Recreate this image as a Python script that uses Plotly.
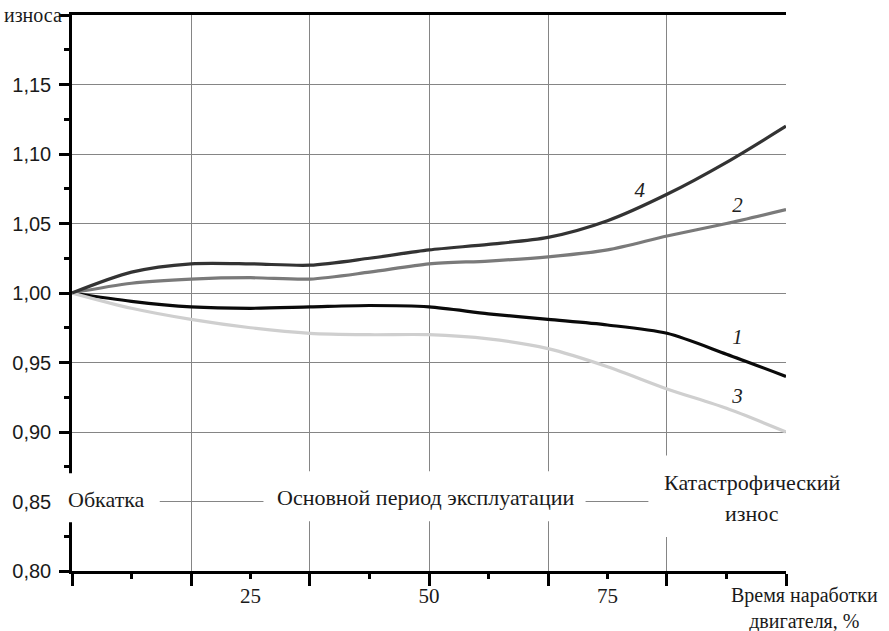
import plotly.graph_objects as go

# ---- data ----
time_pct = [0, 8.33, 16.67, 25, 33.33, 41.67, 50, 58.33, 66.67, 75, 83.33, 91.67, 100]
curve_1 = [1.000, 0.994, 0.990, 0.989, 0.990, 0.991, 0.990, 0.985, 0.981, 0.977, 0.971, 0.956, 0.940]
curve_2 = [1.000, 1.007, 1.010, 1.011, 1.010, 1.015, 1.021, 1.023, 1.026, 1.031, 1.041, 1.050, 1.060]
curve_3 = [1.000, 0.989, 0.981, 0.975, 0.971, 0.970, 0.970, 0.967, 0.960, 0.947, 0.931, 0.917, 0.900]
curve_4 = [1.000, 1.015, 1.021, 1.021, 1.020, 1.025, 1.031, 1.035, 1.040, 1.052, 1.071, 1.094, 1.120]
series_names = ["1", "2", "3", "4"]
label_x = [93.2, 93.2, 93.2, 79.5]
label_y = [0.967, 1.062, 0.925, 1.073]

y_tickvals = [0.80, 0.85, 0.90, 0.95, 1.00, 1.05, 1.10, 1.15, 1.20]
y_ticktext = ["0,80", "0,85", "0,90", "0,95", "1,00", "1,05", "1,10", "1,15", ""]
y_minor = [0.825, 0.875, 0.925, 0.975, 1.025, 1.075, 1.125, 1.175]
x_grid = [0, 16.67, 33.33, 50, 66.67, 83.33, 100]
x_minor = [8.33, 25, 41.67, 58.33, 75, 91.67]
x_labelvals = [25, 50, 75]
x_labeltext = ["25", "50", "75"]

W, H = 889, 631
L, R, T, B = 70, 103, 13, 60
PW, PH = W - L - R, H - T - B

def px(xp):
    return (xp - L) / PW

def py(yp):
    return (H - B - yp) / PH

SERIF = "Liberation Serif, Times New Roman, serif"
SANS = "Liberation Sans, Arial, sans-serif"

fig = go.Figure()
colors = ["#0a0a0a", "#7a7a7a", "#cfcfcf", "#333333"]
for name, col, ys in zip(series_names, colors, [curve_1, curve_2, curve_3, curve_4]):
    fig.add_trace(go.Scatter(x=time_pct, y=ys, mode="lines", name=name,
                             line=dict(color=col, width=3.2, shape="spline", smoothing=0.8),
                             showlegend=False, hoverinfo="skip"))

# curve number labels (drawn on the label axis so that it is rendered)
fig.add_trace(go.Scatter(x=label_x, y=label_y, mode="text", text=series_names,
                         textfont=dict(family=SERIF, size=21, color="#222", style="italic"),
                         xaxis="x2", yaxis="y", showlegend=False, hoverinfo="skip"))

def txt(xp, yp, text, anchor="center", size=22):
    return dict(x=px(xp), y=py(yp), xref="paper", yref="paper", text=text, showarrow=False,
                xanchor=anchor, yanchor="middle", font=dict(family=SERIF, size=size, color="#1a1a1a"))

annotations = [
    txt(105, 499, "Обкатка"),
    txt(424, 497, "Основной период эксплуатации"),
    txt(752, 482, "Катастрофический"),
    txt(752, 513, "износ"),
    txt(805, 609, "Время наработки<br>двигателя, %", size=20),
    txt(0, 13, "износа", anchor="left", size=20),
]

def mask(x0, x1, y0, y1):
    return dict(type="rect", xref="paper", yref="paper", x0=px(x0), x1=px(x1),
                y0=py(y1), y1=py(y0), fillcolor="white", line=dict(width=0), layer="above")

shapes = [mask(55, 158, 473, 522), mask(262, 585, 471, 521), mask(648, 860, 455, 537)]

axis_common = dict(showline=True, linecolor="black", linewidth=2.5, zeroline=False)

fig.update_layout(
    width=W, height=H, margin=dict(l=L, r=R, t=T, b=B),
    paper_bgcolor="white", plot_bgcolor="white",
    xaxis=dict(range=[0, 100], tickmode="array", tickvals=x_grid, ticktext=[""] * len(x_grid),
               ticks="outside", ticklen=12, tickwidth=2.5, tickcolor="black",
               showgrid=True, gridcolor="#858585", gridwidth=1, mirror=True,
               minor=dict(tickvals=x_minor, ticks="outside", ticklen=5, tickwidth=2.5,
                          tickcolor="black", showgrid=False),
               **axis_common),
    xaxis2=dict(range=[0, 100], overlaying="x", anchor="y", side="bottom",
                tickmode="array", tickvals=x_labelvals, ticktext=x_labeltext,
                ticks="", showgrid=False, showline=False, zeroline=False,
                tickfont=dict(family=SERIF, size=21, color="#1a1a1a"), ticklabelstandoff=10),
    yaxis=dict(range=[0.80, 1.20], tickmode="array", tickvals=y_tickvals, ticktext=y_ticktext,
               ticks="outside", ticklen=10, tickwidth=2.5, tickcolor="black",
               showgrid=True, gridcolor="#858585", gridwidth=1,
               tickfont=dict(family=SANS, size=20, color="#1a1a1a"), ticklabelstandoff=4,
               minor=dict(tickvals=y_minor, ticks="outside", ticklen=5, tickwidth=2.5,
                          tickcolor="black", showgrid=False),
               **axis_common),
    yaxis2=dict(range=[0.80, 1.20], overlaying="y", anchor="x", side="right",
                tickmode="array", tickvals=y_tickvals, showticklabels=False,
                ticks="inside", ticklen=8, tickwidth=2.5, tickcolor="black", showgrid=False,
                minor=dict(tickvals=y_minor, ticks="inside", ticklen=7, tickwidth=2.5,
                           tickcolor="black", showgrid=False),
                **axis_common),
    annotations=annotations, shapes=shapes, showlegend=False,
)

fig.write_html("out.html", config={"displayModeBar": False},
               post_script="document.body.style.margin='0';document.body.style.overflow='hidden';")
